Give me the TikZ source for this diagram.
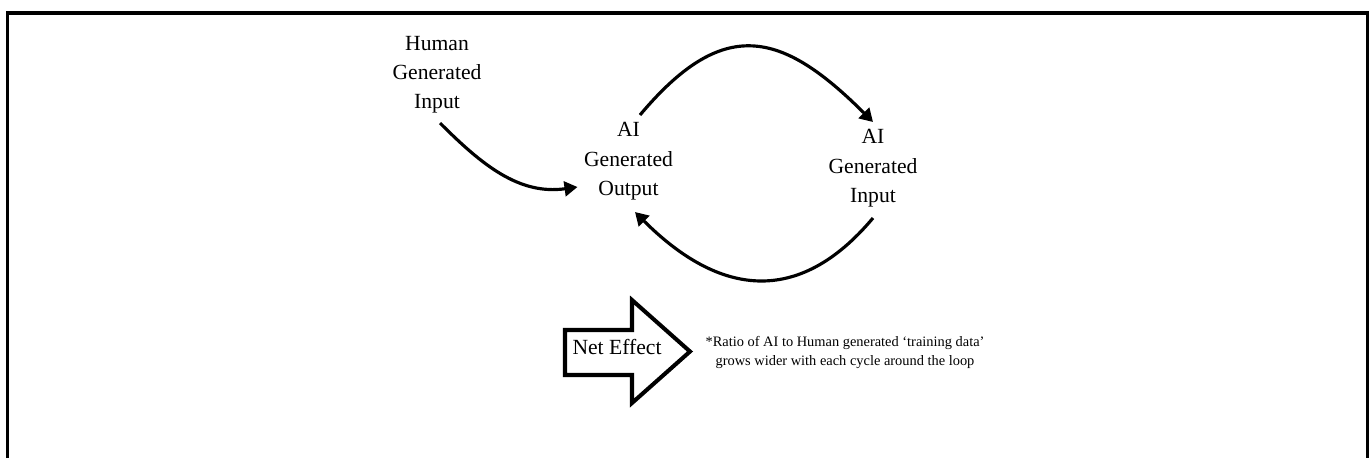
\documentclass[tikz,border=0pt]{standalone}
\usepackage{fontspec}
\setmainfont{Liberation Serif}
\usetikzlibrary{arrows.meta}

\begin{document}
\begin{tikzpicture}[x=0.02cm, y=0.02cm,
  term/.style={align=center, inner sep=0pt, font=\fontsize{12.3}{16.7}\selectfont},
  remark/.style={align=center, inner sep=0pt, font=\fontsize{8.2}{10.6}\selectfont},
  flow/.style={line width=1.8pt, -{Triangle[length=7.4pt,width=8.4pt]}}]
  \useasboundingbox (0,0) rectangle (1370,-458);

  % Border
  \draw[line width=2pt] (7.5,-458) -- (7.5,-13.2) -- (1367.5,-13.2) -- (1367.5,-458);

  % Labels
  \node[term] (human) at (437,-74.6) {Human\\Generated\\Input};
  \node[term] (aiout) at (628.5,-161.2) {AI\\Generated\\Output};
  \node[term] (aiin) at (873,-168.2) {AI\\Generated\\Input};

  % Loop
  \draw[flow] ([shift={(3,-48.4)}]human.center) to[out=-45, in=188] ([shift={(-51,-25.8)}]aiout.center);
  \draw[flow] ([shift={(11.5,46.2)}]aiout.center) to[out=50, in=135, looseness=1.42] ([shift={(0,46.2)}]aiin.center);
  \draw[flow] ([shift={(0,-49.8)}]aiin.center) to[out=-130, in=-45, looseness=1.26] ([shift={(6.5,-50.8)}]aiout.center);

  % Net effect
  \draw[line width=2.3pt, line join=miter] (565,-330) -- (632,-330) -- (632,-300) -- (690,-351.5) -- (632,-403) -- (632,-375) -- (565,-375) -- cycle;
  \node[term, anchor=base] (net) at (617,-354) {Net Effect};
  \node[remark] (ratio) at (845,-352.2) {*Ratio of AI to Human generated ‘training data’\\grows wider with each cycle around the loop};
\end{tikzpicture}
\end{document}
